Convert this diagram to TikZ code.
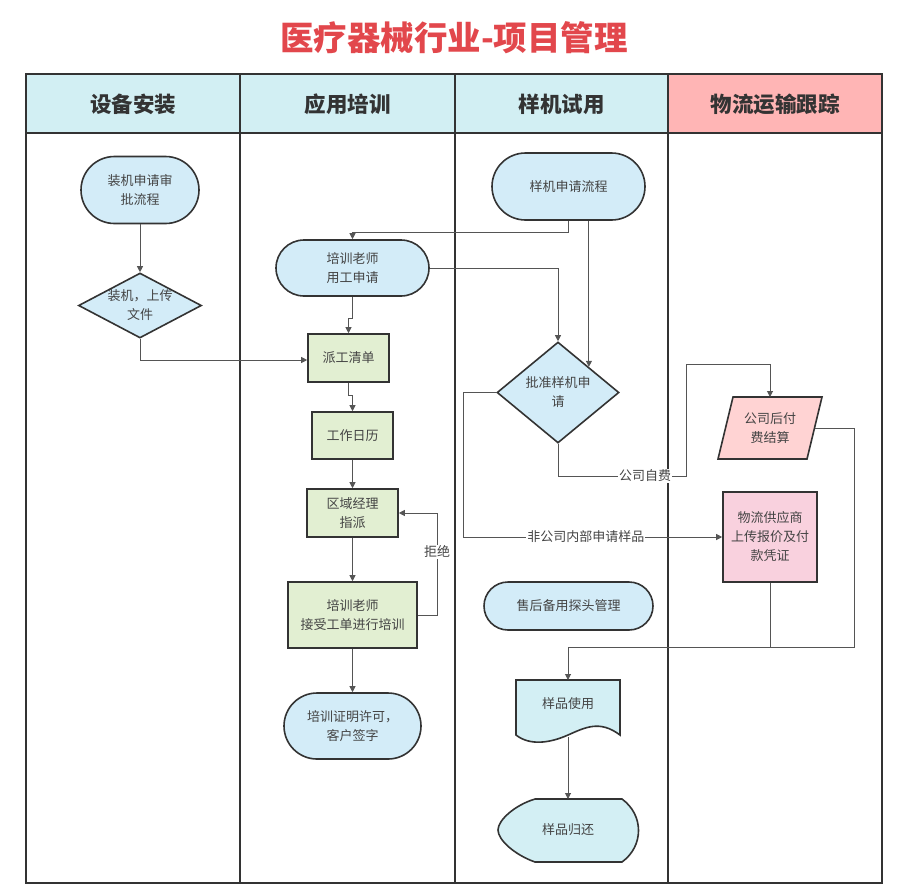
\documentclass[tikz,border=0pt]{standalone}
\usepackage{fontspec}
\setmainfont{Noto Sans CJK SC}
\usetikzlibrary{arrows.meta,shapes.geometric,shapes.misc,calc}
\definecolor{lanecyan}{HTML}{D2EFF3}
\definecolor{lanepink}{HTML}{FFB5B5}
\definecolor{termblue}{HTML}{D3ECF8}
\definecolor{boxgreen}{HTML}{E2EFD2}
\definecolor{paypink}{HTML}{FFD3D3}
\definecolor{wlpink}{HTML}{F9D1DE}
\definecolor{doccyan}{HTML}{D3EFF4}
\definecolor{titlered}{HTML}{E2474C}
\definecolor{txt}{HTML}{444444}
\definecolor{edge}{HTML}{333333}
\definecolor{conn}{HTML}{555555}
\tikzset{
  shp/.style={draw=edge,line width=1.6pt,text=txt,font=\fontsize{13}{19}\selectfont,align=center,inner sep=0pt},
  term/.style={shp,shape=rounded rectangle,fill=termblue},
  gbox/.style={shp,rectangle,fill=boxgreen},
  dia/.style={shp,shape=diamond,fill=termblue},
  txtnode/.style={text=txt,font=\fontsize{13}{19}\selectfont,align=center,inner sep=0pt},
  conline/.style={draw=conn,line width=1pt},
  arr/.style={conline,-{Triangle[length=6pt,width=6pt]}},
  lbl/.style={fill=white,text=txt,font=\fontsize{13}{15}\selectfont,inner sep=1pt},
  hdr/.style={font=\fontsize{21.5}{23}\selectfont\bfseries,text=edge},
}
\begin{document}
\begin{tikzpicture}[x=1pt,y=-1pt]
\useasboundingbox (0,0) rectangle (915,895);
% title
\node[font=\fontsize{33.5}{35}\selectfont\bfseries,text=titlered] (title) at (454,38) {医疗器械行业-项目管理};
% headers
\fill[lanecyan] (26,74) rectangle (668,133);
\fill[lanepink] (668,74) rectangle (882,133);
\draw[edge,line width=1.8pt] (26,74) rectangle (882,883);
\draw[edge,line width=1.8pt] (26,133) -- (882,133);
\foreach \x in {240,455,668} \draw[edge,line width=1.8pt] (\x,74) -- (\x,883);
\node[hdr] (h1) at (133,104) {设备安装};
\node[hdr] (h2) at (347.5,104) {应用培训};
\node[hdr] (h3) at (561.5,104) {样机试用};
\node[hdr] (h4) at (775,104) {物流运输跟踪};
% lane 1
\node[term,minimum width=118pt,minimum height=67pt] (a1) at (140,190) {装机申请审\\批流程};
\node[dia,minimum width=123pt,minimum height=65pt] (d1) at (140,305.5) {};
\node[txtnode] (d1t) at (140,305.5) {装机，上传\\文件};
% lane 2
\node[term,minimum width=153pt,minimum height=56pt] (t1) at (352.5,268) {培训老师\\用工申请};
\node[gbox,minimum width=81pt,minimum height=48pt] (pg) at (348.5,358) {派工清单};
\node[gbox,minimum width=81pt,minimum height=47pt] (wc) at (352.5,435.5) {工作日历};
\node[gbox,minimum width=91pt,minimum height=48pt] (qy) at (352.5,513) {区域经理\\指派};
\node[gbox,minimum width=129pt,minimum height=66pt] (px) at (352.5,615) {培训老师\\接受工单进行培训};
\node[term,minimum width=137pt,minimum height=66pt] (zm) at (352.5,726) {培训证明许可，\\客户签字};
% lane 3
\node[term,minimum width=153pt,minimum height=67pt] (s1) at (568.5,186.5) {样机申请流程};
\node[dia,minimum width=122pt,minimum height=101pt] (d2) at (558,392.5) {};
\node[txtnode] (d2t) at (558,392.5) {批准样机申\\请};
\node[term,minimum width=169pt,minimum height=48pt] (sh) at (568.5,606) {售后备用探头管理};
% document shape
\filldraw[fill=doccyan,draw=edge,line width=1.6pt] (516,680) -- (620,680) -- (620,735)
  .. controls (600,720) and (586,727) .. (568,735)
  .. controls (550,743) and (530,746) .. (516,735) -- cycle;
\node[txtnode] (yp) at (568,704) {样品使用};
\coordinate (ypTop) at (568,680);
\coordinate (ypBot) at (568,737);
% display shape
\filldraw[fill=doccyan,draw=edge,line width=1.6pt] (535,799) -- (622,799)
  .. controls (644,815) and (644,846) .. (622,862) -- (535,862)
  .. controls (515,855) and (498,840) .. (498,830)
  .. controls (498,820) and (515,805) .. (535,799) -- cycle;
\node[txtnode] (gh) at (568,830) {样品归还};
\coordinate (ghTop) at (568,799);
% lane 4
\filldraw[fill=paypink,draw=edge,line width=1.6pt] (733,397) -- (822,397) -- (807,459) -- (718,459) -- cycle;
\node[txtnode] (pay) at (770,428) {公司后付\\费结算};
\coordinate (payTop) at (770,397);
\coordinate (payR) at (815,428);
\node[shp,rectangle,fill=wlpink,minimum width=94pt,minimum height=90pt] (wl) at (770,537) {物流供应商\\上传报价及付\\款凭证};
% connectors
\draw[arr] (a1.south) -- (d1.north);
\draw[arr] (d1.south) -- (140,360) -- (pg.west |- 0,360);
\draw[arr] (s1.south) -- (568.5,232) -| (t1.north);
\draw[arr] (t1.east) -| (d2.north);
\draw[arr] (s1.south -| d2.north east) -- (d2.north east);
\draw[arr] (t1.south) -- (352.5,318) -| (pg.north);
\draw[arr] (pg.south) -- (348.5,395) -| (wc.north);
\draw[arr] (wc.south) -- (qy.north);
\draw[arr] (qy.south) -- (px.north);
\draw[arr] (px.east) -- (437,615) |- node[lbl,pos=0.31] {拒绝} (qy.east);
\draw[arr] (px.south) -- (zm.north);
\draw[arr] (d2.west) -- (463,392.5) |- node[lbl,pos=0.737] {非公司内部申请样品} (wl.west);
\draw[arr] (d2.south) -- (558,476) -- node[lbl,pos=0.68] {公司自费} (686,476) -- (686,364) -| (payTop);
\draw[arr] (payR) -- (854,428) -- (854,647) -- (568,647) -- (ypTop);
\draw[conline] (wl.south) -- (770,647);
\draw[arr] (ypBot) -- (ghTop);
\end{tikzpicture}
\end{document}
